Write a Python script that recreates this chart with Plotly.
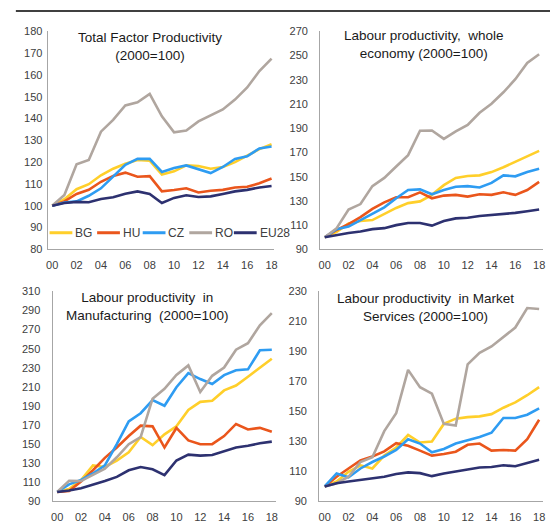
"""
Productivity indices 2000-2018 (2000=100): BG, HU, CZ, RO vs EU28
Four small line panels in one figure
"""

import plotly.graph_objects as go

# ---- data -------------------------------------------------------------
years = list(range(2000, 2019))
series_names = ['BG', 'HU', 'CZ', 'RO', 'EU28']

# Total Factor Productivity
tfp_bg = [100, 103, 107.6, 109.9, 114, 117, 119.3, 121, 120.7, 114.3, 115.8, 118.5, 118.2, 117, 117.8, 120, 123, 126, 128.2]
tfp_hu = [100, 102, 105.4, 107.3, 111, 113.7, 115.2, 113.3, 113.6, 106.6, 107.2, 108, 106.1, 106.9, 107.3, 108.4, 108.7, 110.3, 112.5]
tfp_cz = [100, 101.5, 102, 104.6, 108, 113.3, 118.8, 121.5, 121.5, 115.5, 117.3, 118.5, 116.7, 115, 117.8, 121.5, 122.7, 126.3, 127.2]
tfp_ro = [100, 105, 119, 121, 134, 139.4, 146, 147.5, 151.3, 141, 133.7, 134.5, 138.7, 141.6, 144.2, 148.7, 154.3, 161.8, 167.5]
tfp_eu = [100, 101.3, 101.8, 101.6, 103.1, 103.9, 105.5, 106.6, 105.4, 101.3, 103.6, 104.8, 104, 104.3, 105.4, 106.6, 107.3, 108.4, 109.1]

# Labour productivity, whole economy
lp_bg = [100, 104.5, 111.3, 113.4, 114.2, 119.3, 124.2, 128.2, 129.6, 135, 143, 149, 150.6, 151.1, 153.8, 157.8, 162.4, 166.4, 171.3]
lp_hu = [100, 106, 110.8, 116.6, 123.4, 128.8, 133, 133, 137.1, 132.2, 134.4, 135, 133.6, 135.5, 135, 137.1, 135, 139, 145.7]
lp_cz = [100, 106.7, 108.8, 114.2, 119.3, 124.7, 132.2, 139, 139.5, 135.5, 139, 141.7, 142.2, 141.1, 144.9, 151.1, 150.3, 153.8, 156.5]
lp_ro = [100, 107.5, 122.9, 127.4, 142.2, 149, 158.4, 167.8, 188, 188.2, 181.2, 187.4, 192.8, 202.8, 210.3, 219.7, 230.5, 243.9, 251.2]
lp_eu = [100, 101.9, 103.5, 104.8, 106.7, 107.5, 110, 111.8, 111.8, 109.6, 113.4, 115.6, 116.1, 117.5, 118.3, 119.3, 120.1, 121.5, 122.9]

# Labour productivity in Manufacturing
mf_bg = [100, 103, 112.5, 127.8, 126.1, 132.9, 141.4, 157.5, 149, 160.3, 168.8, 185.8, 194.3, 195.4, 206.3, 211.4, 220.6, 230.2, 239.4]
mf_hu = [100, 101, 110.8, 122.7, 135.7, 146.5, 158.5, 169.4, 168.7, 146.5, 167, 154, 150, 150, 158.5, 171.2, 165.4, 167.1, 163]
mf_cz = [100, 108, 112.5, 119.3, 127.8, 150, 173.9, 182.4, 196.1, 190.2, 209.7, 224.4, 218.2, 213.1, 222.3, 227.4, 228.4, 248.3, 248.9]
mf_ro = [100, 111.7, 111.4, 117.6, 124.4, 136.3, 150, 157.5, 197.7, 208, 222.5, 232.5, 204.6, 221.6, 230.2, 248.9, 255.8, 274.5, 287.2]
mf_eu = [100, 101.5, 103.9, 107.5, 111.4, 115.8, 122.7, 126.1, 123.7, 117.6, 132.9, 139, 138, 138.7, 142.4, 146.5, 148.3, 151, 152.7]

# Labour productivity in Market Services
ms_bg = [100, 103.3, 109.8, 114.1, 112, 120.6, 126, 134.3, 129.3, 130, 141.7, 145.2, 146.2, 146.7, 148.2, 152.5, 156, 160.8, 166.2]
ms_hu = [100, 106.5, 112, 117.4, 120, 123.4, 128.9, 127.1, 123.9, 120.6, 121.7, 123.2, 127.8, 128.6, 123.9, 124.3, 123.9, 131.5, 144.5]
ms_cz = [100, 108.7, 106.1, 112, 116.3, 120, 124.3, 131.5, 128.6, 122.8, 125, 128.6, 130.8, 133, 135.8, 145.6, 145.6, 147.8, 152.1]
ms_ro = [100, 102.2, 106.5, 116.3, 119.5, 136.9, 148.8, 177.7, 166.2, 161.8, 141.7, 140.6, 181.4, 189, 193.3, 199.8, 205.9, 218.9, 218.3]
ms_eu = [100, 102.2, 103.3, 104.3, 105, 106.5, 108.3, 109.4, 108.9, 106.9, 108.7, 110.2, 111.3, 112.6, 113, 114.1, 113.5, 115.6, 117.8]

titles = [
    'Total Factor Productivity<br>(2000=100)',
    'Labour productivity,  whole<br>economy (2000=100)',
    'Labour productivity  in<br>Manufacturing  (2000=100)',
    'Labour productivity  in Market<br>Services (2000=100)',
]
y_ticks = [
    list(range(80, 181, 10)),
    list(range(90, 271, 20)),
    list(range(90, 311, 20)),
    list(range(90, 231, 20)),
]
x_ticks = years[::2]
x_tick_labels = ['%02d' % (y % 100) for y in x_ticks]

colors = ['#FFCF2A', '#EA561C', '#2E9CF2', '#B0A69F', '#2D3170']

# ---- layout helpers (pixel boxes of each panel) ----------------------
W, H = 554, 529
FONT = 'Liberation Sans, Arial, sans-serif'
TXT = '#404040'

# (x0, x1, ytop, ybottom, xrange, standoff, title centre x, title centre y)
boxes = [
    (47, 275, 26, 249, [1999.62, 2018.16], 2, 150, 41),
    (322, 547, 26, 249, [1999.61, 2018.33], 9, 427, 39),
    (52, 277, 292, 507, [1999.61, 2018.31], 9, 147, 307),
    (321, 547, 292, 507, [1999.53, 2018.33], 9, 428, 309),
]

panels = [
    [tfp_bg, tfp_hu, tfp_cz, tfp_ro, tfp_eu],
    [lp_bg, lp_hu, lp_cz, lp_ro, lp_eu],
    [mf_bg, mf_hu, mf_cz, mf_ro, mf_eu],
    [ms_bg, ms_hu, ms_cz, ms_ro, ms_eu],
]

fig = go.Figure()
layout = {}
annotations = []
shapes = []

for i, (data, box) in enumerate(zip(panels, boxes)):
    x0, x1, yt, yb, xr, standoff, tx, ty = box
    n = '' if i == 0 else str(i + 1)
    for name, vals, col in zip(series_names, data, colors):
        fig.add_trace(go.Scatter(
            x=years, y=vals, mode='lines', name=name,
            line=dict(color=col, width=2.6),
            xaxis='x' + n, yaxis='y' + n, showlegend=False,
        ))
    layout['xaxis' + n] = dict(
        domain=[x0 / W, x1 / W], range=xr, anchor='y' + n,
        tickvals=x_ticks, ticktext=x_tick_labels,
        showgrid=False, zeroline=False, showline=True,
        linecolor='#A6A6A6', linewidth=1, ticks='', ticklabelstandoff=5,
        tickfont=dict(family=FONT, size=11, color=TXT),
    )
    layout['yaxis' + n] = dict(
        domain=[1 - yb / H, 1 - yt / H], range=[y_ticks[i][0], y_ticks[i][-1]],
        anchor='x' + n, tickvals=y_ticks[i],
        showgrid=False, zeroline=False, showline=True,
        linecolor='#A6A6A6', linewidth=1, ticks='', ticklabelstandoff=standoff,
        tickfont=dict(family=FONT, size=11, color=TXT),
    )
    annotations.append(dict(
        x=tx / W, y=1 - ty / H, xref='paper', yref='paper',
        text=titles[i], showarrow=False, xanchor='center', yanchor='middle',
        align='center', font=dict(family=FONT, size=13.5, color='#1A1A1A'),
    ))

# hand-made legend inside the first panel
leg_y = 1 - 232 / H
leg_x = [49, 97, 143, 190, 235]
for name, col, lx in zip(series_names, colors, leg_x):
    shapes.append(dict(type='line', xref='paper', yref='paper',
                       x0=lx / W, x1=(lx + 23) / W, y0=leg_y, y1=leg_y,
                       line=dict(color=col, width=3)))
    annotations.append(dict(
        x=(lx + 24) / W, y=leg_y, xref='paper', yref='paper', text=name,
        showarrow=False, xanchor='left', yanchor='middle',
        font=dict(family=FONT, size=12, color=TXT),
    ))

# thin rule across the top
shapes.append(dict(type='line', xref='paper', yref='paper',
                   x0=15 / W, x1=1, y0=1 - 5 / H, y1=1 - 5 / H,
                   line=dict(color='black', width=1.5)))

fig.update_layout(
    width=W, height=H,
    margin=dict(l=0, r=0, t=0, b=0),
    paper_bgcolor='white', plot_bgcolor='white',
    showlegend=False,
    annotations=annotations, shapes=shapes,
    **layout,
)

# page body margin would push the fixed-size figure out of the window
fig.write_html("out.html", config={'displayModeBar': False},
               post_script="document.body.style.margin='0';")
